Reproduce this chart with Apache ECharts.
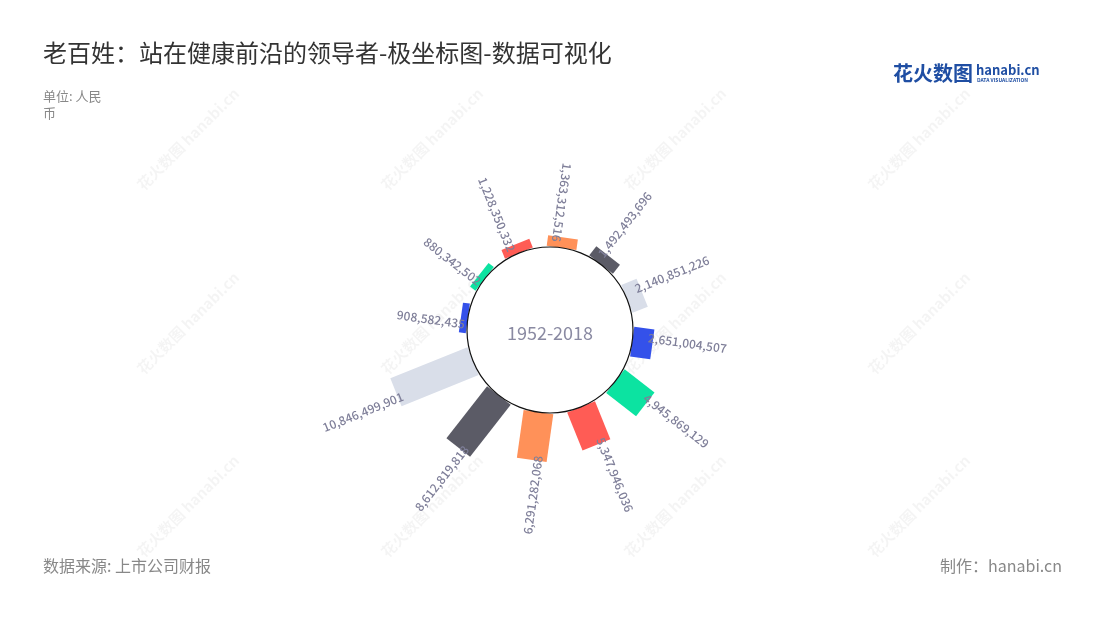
<!DOCTYPE html>
<html>
<head>
<meta charset="utf-8">
<script src="https://cdn.jsdelivr.net/npm/echarts@6/dist/echarts.min.js"></script>
<style>
html,body{margin:0;padding:0;background:#fff;}
#main{width:1100px;height:620px;}
</style>
</head>
<body>
<div id="main"></div>
<script>
// ---- data ----
const categories = ['1', '2', '3', '4', '5', '6', '7', '8', '9', '10', '11', '12'];
const values = [1363312516, 1492493696, 2140851226, 2651004507, 4945869129, 5347946036,
                6291282068, 8612819818, 10846499901, 908582435, 880342502, 1228350332];
const palette = ['#FF9159', '#5B5B66', '#D9DEE9', '#3451EA', '#0CE3A1', '#FF5C55'];
const centerText = '1952-2018';
const titleText = '老百姓：站在健康前沿的领导者-极坐标图-数据可视化';
const unitText = '单位: 人民\n币';
const sourceText = '数据来源: 上市公司财报';
const makerText = '制作：hanabi.cn';

const FONT = '"Noto Sans CJK SC", "Noto Sans", sans-serif';
const CX = 550, CY = 330, R0 = 83, R1 = 175;
const BAR_HALF = 15;
const LABEL_COLOR = '#7f7f99';

function fmt(n) { return String(n).replace(/\B(?=(\d{3})+(?!\d))/g, ','); }

const chart = echarts.init(document.getElementById('main'));

const seriesData = values.map((v, i) => ({ value: [v, i], itemStyle: { color: palette[i % palette.length] } }));

function renderItem(params, api) {
  const v = api.value(0);
  const i = api.value(1);
  const p0 = api.coord([0, i]);
  const p1 = api.coord([v, i]);
  let dx = p1[0] - p0[0], dy = p1[1] - p0[1];
  const len = Math.sqrt(dx * dx + dy * dy) || 1;
  dx /= len; dy /= len;
  const nx = -dy * BAR_HALF, ny = dx * BAR_HALF;
  const color = palette[i % palette.length];
  // compass angle (clockwise from top)
  let theta = Math.atan2(dx, -dy) * 180 / Math.PI;
  if (theta < 0) theta += 360;
  const flip = theta < 15 || theta >= 180;
  const phi = (90 - theta) * Math.PI / 180;
  // label anchor: slightly inside bar end, shifted counter-clockwise
  const back = 5, side = 6;
  const ax = p1[0] - dx * back + dy * side;
  const ay = p1[1] - dy * back - dx * side;
  return {
    type: 'group',
    children: [
      {
        type: 'polygon',
        shape: { points: [
          [p0[0] + nx, p0[1] + ny], [p1[0] + nx, p1[1] + ny],
          [p1[0] - nx, p1[1] - ny], [p0[0] - nx, p0[1] - ny]
        ] },
        style: { fill: color }
      },
      {
        type: 'text',
        x: ax, y: ay,
        rotation: flip ? phi + Math.PI : phi,
        z2: 10,
        style: {
          text: fmt(v),
          fill: LABEL_COLOR,
          font: '500 12px ' + FONT,
          align: flip ? 'right' : 'left',
          verticalAlign: 'middle'
        }
      }
    ]
  };
}

// watermark tiles (decoration)
const marks = [];
[188, 432, 675, 919].forEach(x => {
  [139, 323, 506].forEach(y => {
    marks.push({
      type: 'text', x: x, y: y, rotation: Math.PI / 4, z: 0,
      style: { text: '花火数图 hanabi.cn', font: 'bold 15px ' + FONT, fill: 'rgba(0,0,0,0.045)', align: 'center', verticalAlign: 'middle' }
    });
  });
});

const option = {
  backgroundColor: '#fff',
  textStyle: { fontFamily: FONT },
  title: [
    { text: titleText, left: 43, top: 41, padding: 0, textStyle: { fontSize: 24, fontWeight: 'normal', color: '#333', fontFamily: FONT } },
    { text: unitText, left: 43, top: 88, padding: 0, textStyle: { fontSize: 13, lineHeight: 17, fontWeight: 'normal', color: '#888', fontFamily: FONT } },
    { text: sourceText, left: 43, top: 558, padding: 0, textStyle: { fontSize: 16, fontWeight: 'normal', color: '#888', fontFamily: FONT } },
    { text: makerText, right: 38, top: 558, padding: 0, textStyle: { fontSize: 16, fontWeight: 'normal', color: '#888', fontFamily: FONT } }
  ],
  polar: { center: [CX, CY], radius: [R0, R1] },
  angleAxis: {
    type: 'category', data: categories, startAngle: 97, clockwise: true,
    show: false, axisLine: { show: false }, axisTick: { show: false }, axisLabel: { show: false }, splitLine: { show: false }
  },
  radiusAxis: {
    type: 'value', min: 0, max: 12000000000,
    show: false, axisLine: { show: false }, axisTick: { show: false }, axisLabel: { show: false }, splitLine: { show: false }
  },
  series: [{
    type: 'custom',
    coordinateSystem: 'polar',
    renderItem: renderItem,
    data: seriesData,
    z: 2
  }],
  graphic: { elements: marks.concat([
    { type: 'circle', z: 10, shape: { cx: CX, cy: CY, r: R0 }, style: { fill: '#fff', stroke: '#111', lineWidth: 1.2 } },
    { type: 'text', z: 11, x: CX, y: CY + 3, style: { text: centerText, font: '18px ' + FONT, fill: '#8a8aa2', align: 'center', verticalAlign: 'middle' } },
    { type: 'text', z: 11, x: 893, y: 73, style: { text: '花火数图', font: 'bold 20px ' + FONT, fill: '#1f4ea3', align: 'left', verticalAlign: 'middle' } },
    { type: 'text', z: 11, x: 976, y: 70, style: { text: 'hanabi.cn', font: 'bold 13px ' + FONT, fill: '#1f4ea3', align: 'left', verticalAlign: 'middle' } },
    { type: 'text', z: 11, x: 977, y: 80, style: { text: 'DATA VISUALIZATION', font: 'bold 5px ' + FONT, fill: '#1f4ea3', align: 'left', verticalAlign: 'middle' } }
  ]) }
};
chart.setOption(option);
</script>
</body>
</html>
